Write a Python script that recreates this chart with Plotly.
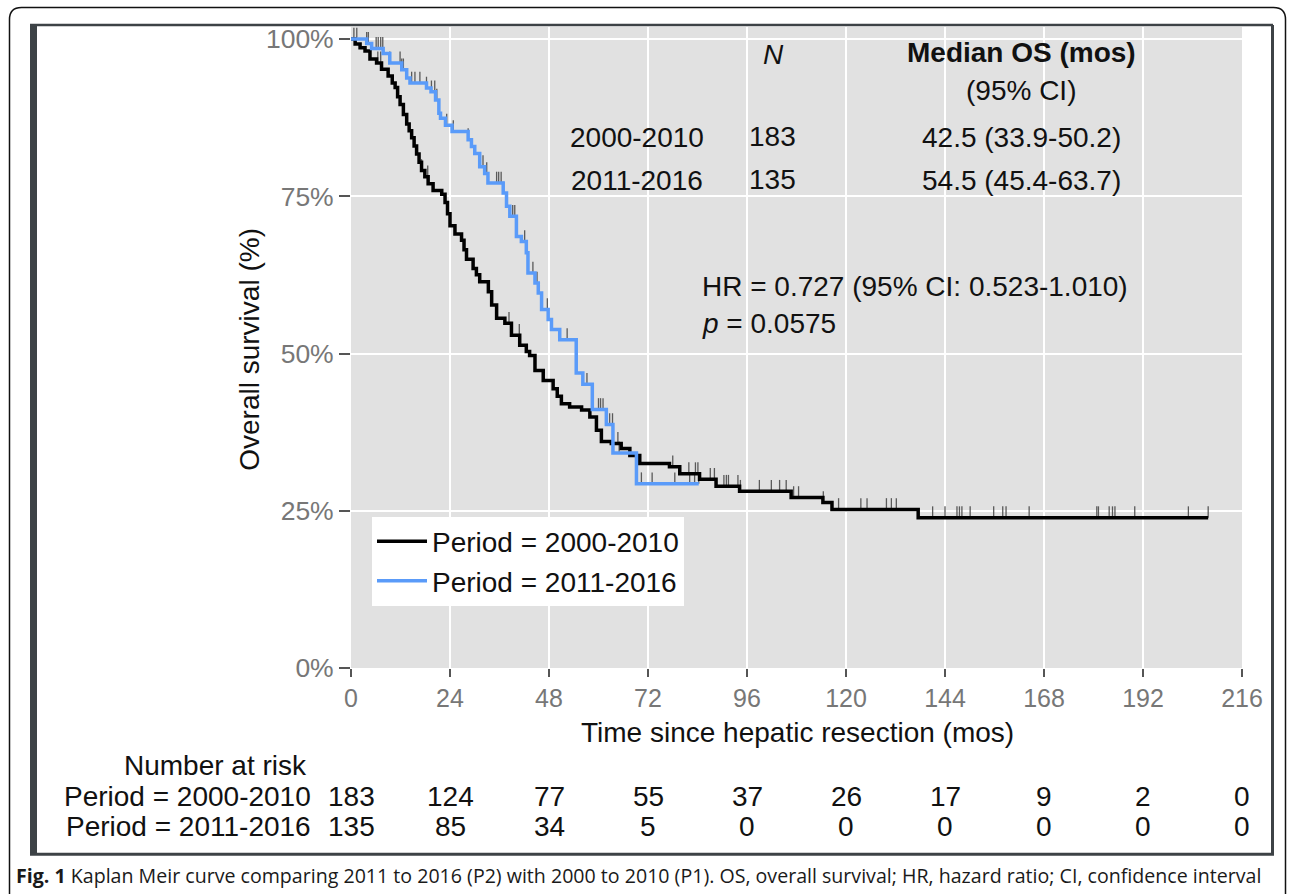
import numpy as np
import plotly.graph_objects as go

# ---------------- data ----------------
p1_name = "Period = 2000-2010"
p2_name = "Period = 2011-2016"

p1_times = [0, 1.0, 2.2, 3.4, 4.6, 6.2, 7.4, 9.0, 10.0, 10.7, 11.3, 11.9, 12.7, 13.5, 14.1, 14.7,
            15.3, 15.9, 16.5, 17.1, 17.9, 18.7, 19.9, 22.0, 22.8, 23.4, 24.0, 25.2, 26.8, 27.4,
            28.0, 29.6, 30.4, 31.2, 33.3, 34.1, 35.3, 37.3, 38.9, 40.9, 42.5, 43.3, 44.6, 46.6,
            49.0, 50.0, 51.0, 53.0, 55.9, 57.9, 59.5, 60.7, 63.1, 65.5, 67.6, 70.0, 77.2, 79.7,
            84.5, 88.5, 94.2, 106.7, 114.4, 116.6, 137.5]
p1_surv = [1.0, 0.992, 0.986, 0.981, 0.968, 0.962, 0.952, 0.941, 0.930, 0.923, 0.908, 0.896, 0.880,
           0.865, 0.854, 0.843, 0.830, 0.817, 0.804, 0.791, 0.781, 0.770, 0.759, 0.753, 0.740,
           0.722, 0.703, 0.690, 0.680, 0.665, 0.650, 0.635, 0.625, 0.614, 0.598, 0.577, 0.556,
           0.548, 0.529, 0.513, 0.503, 0.497, 0.473, 0.457, 0.444, 0.432, 0.420, 0.415, 0.410,
           0.399, 0.378, 0.360, 0.357, 0.349, 0.338, 0.325, 0.320, 0.309, 0.300, 0.289, 0.281,
           0.271, 0.263, 0.252, 0.239]
p1_end = 207.8
p1_censor = [6.5, 7.2, 17.1, 18.6, 38.3, 40.8, 64.7, 78.0, 81.9, 83.5, 84.1, 87.1, 88.1, 90.4,
             91.0, 91.5, 93.8, 94.4, 99.0, 101.9, 103.9, 105.5, 107.3, 108.5, 114.5, 118.2, 123.6,
             125.1, 129.8, 131.0, 132.2, 141.0, 144.0, 146.9, 147.5, 148.1, 150.1, 155.8, 158.0,
             158.8, 164.4, 180.8, 181.2, 183.8, 184.6, 185.2, 190.0, 203.0, 207.8]

p2_times = [0, 3.8, 5.0, 7.8, 9.4, 12.3, 13.5, 14.3, 18.3, 19.4, 20.5, 21.3, 21.7, 22.9, 24.5,
            28.4, 29.2, 30.0, 31.2, 32.4, 33.2, 36.9, 37.7, 38.5, 40.1, 41.3, 42.5, 42.9, 44.6,
            45.4, 46.2, 47.8, 48.6, 50.6, 54.6, 56.2, 58.5, 61.9, 63.5, 69.2]
p2_surv = [1.0, 0.993, 0.985, 0.977, 0.962, 0.951, 0.938, 0.930, 0.922, 0.916, 0.903, 0.882,
           0.874, 0.863, 0.853, 0.840, 0.829, 0.818, 0.797, 0.786, 0.771, 0.755, 0.734, 0.718,
           0.686, 0.678, 0.660, 0.628, 0.612, 0.596, 0.570, 0.554, 0.538, 0.522, 0.469, 0.451,
           0.411, 0.387, 0.342, 0.293]
p2_end = 84.3
p2_censor = [0.7, 1.4, 3.8, 4.2, 6.1, 6.6, 7.2, 7.7, 9.4, 11.9, 12.3, 12.7, 14.7, 15.5, 16.7,
             18.3, 19.5, 20.3, 20.8, 23.2, 24.8, 28.4, 31.2, 32.0, 32.9, 35.3, 35.8, 36.4, 36.9,
             39.2, 39.7, 42.1, 44.1, 45.1, 46.2, 47.6, 52.4, 57.2, 60.0, 60.5, 61.1, 62.1, 62.7,
             63.4, 65.0, 70.4, 73.0, 78.5, 82.1, 83.3, 84.3]

risk_times = [0, 24, 48, 72, 96, 120, 144, 168, 192, 216]
risk_p1 = [183, 124, 77, 55, 37, 26, 17, 9, 2, 0]
risk_p2 = [135, 85, 34, 5, 0, 0, 0, 0, 0, 0]

x_tickvals = [0, 24, 48, 72, 96, 120, 144, 168, 192, 216]
y_tickvals = [0, 0.25, 0.5, 0.75, 1.0]
y_ticktext = ["0%", "25%", "50%", "75%", "100%"]

table_header = ["N", "Median OS (mos)", "(95% CI)"]
table_rows = [["2000-2010", "183", "42.5 (33.9-50.2)"],
              ["2011-2016", "135", "54.5 (45.4-63.7)"]]
hr_text = "HR = 0.727 (95% CI: 0.523-1.010)"
p_text = "<i>p</i> = 0.0575"
caption = ("<b>Fig. 1</b> Kaplan Meir curve comparing 2011 to 2016 (P2) with 2000 to 2010 (P1). "
           "OS, overall survival; HR, hazard ratio; CI, confidence interval")

# ---------------- layout geometry (pixels) ----------------
W, H = 1292, 894
PL, PR, PT, PB = 351, 1242, 27, 668.5


def xp(px):
    return (px - PL) / (PR - PL)


def yp(py):
    return (PB - py) / (PB - PT)


FONT = "Liberation Sans, Arial, sans-serif"
BLACK = "#000000"
BLUE = "#5A9BF9"
CENS = "#5a5a5a"


def step_xy(times, surv, end):
    return list(times) + [end], list(surv) + [surv[-1]]


def surv_at(times, surv, ts):
    idx = np.searchsorted(np.array(times), np.array(ts), side="right") - 1
    return [surv[i] for i in idx]


fig = go.Figure()

# censor marks (vertical ticks above the curve)
for times, surv, cens in [(p1_times, p1_surv, p1_censor), (p2_times, p2_surv, p2_censor)]:
    cy = surv_at(times, surv, cens)
    fig.add_trace(go.Scatter(
        x=cens, y=cy, mode="markers", marker=dict(size=1, opacity=0),
        error_y=dict(type="data", symmetric=False, array=[0.018] * len(cens),
                     arrayminus=[0.0] * len(cens), width=0, thickness=1.3, color=CENS),
        showlegend=False, hoverinfo="skip"))

x1, y1 = step_xy(p1_times, p1_surv, p1_end)
fig.add_trace(go.Scatter(x=x1, y=y1, mode="lines", line=dict(shape="hv", color=BLACK, width=3.5),
                         name=p1_name))
x2, y2 = step_xy(p2_times, p2_surv, p2_end)
fig.add_trace(go.Scatter(x=x2, y=y2, mode="lines", line=dict(shape="hv", color=BLUE, width=3.5),
                         name=p2_name))

ann = []


def add_text(text, px, py, size=28, xanchor="center", bold=False, italic=False, color="#111111",
             family=FONT, angle=0):
    t = text
    if bold:
        t = "<b>" + t + "</b>"
    if italic:
        t = "<i>" + t + "</i>"
    ann.append(dict(text=t, x=xp(px), y=yp(py), xref="paper", yref="paper", showarrow=False,
                    xanchor=xanchor, yanchor="middle", textangle=angle,
                    font=dict(size=size, color=color, family=family)))


# in-panel table
add_text(table_header[0], 773, 55, italic=True)
add_text(table_header[1], 1021, 53, bold=True)
add_text(table_header[2], 1021, 91)
for i, row in enumerate(table_rows):
    yy = [138, 181][i]
    add_text(row[0], 637, yy)
    add_text(row[1], 772, yy - 1)
    add_text(row[2], 1021, yy)
add_text(hr_text, 700, 287, xanchor="left")
add_text(p_text, 700, 324, xanchor="left")

# axis titles
add_text("Overall survival (%)", 250, 350, angle=-90)
add_text("Time since hepatic resection (mos)", 797, 733)

# risk table
add_text("Number at risk", 215, 766)
add_text(p1_name, 313, 797, xanchor="right")
add_text(p2_name, 313, 827, xanchor="right")
for t, a, b in zip(risk_times, risk_p1, risk_p2):
    ann.append(dict(text=str(a), x=t, y=yp(797), xref="x", yref="paper", showarrow=False,
                    xanchor="center", yanchor="middle", font=dict(size=28, color="#111111", family=FONT)))
    ann.append(dict(text=str(b), x=t, y=yp(827), xref="x", yref="paper", showarrow=False,
                    xanchor="center", yanchor="middle", font=dict(size=28, color="#111111", family=FONT)))

# caption
add_text(caption, 14, 876, size=19.6, xanchor="left", family="Open Sans, sans-serif", color="#1a1a1a")

# frames
FR = "#3d4246"
FB = 855
shapes = [
    dict(type="line", xref="paper", yref="paper", x0=xp(30), x1=xp(1273), y0=yp(25), y1=yp(25),
         line=dict(color=FR, width=2.5)),
    dict(type="rect", xref="paper", yref="paper", x0=xp(30), x1=xp(37), y0=yp(25), y1=yp(FB),
         line=dict(width=0), fillcolor=FR),
    dict(type="line", xref="paper", yref="paper", x0=xp(1272.5), x1=xp(1272.5), y0=yp(25), y1=yp(FB),
         line=dict(color=FR, width=3)),
    dict(type="line", xref="paper", yref="paper", x0=xp(30), x1=xp(1274), y0=yp(FB), y1=yp(FB),
         line=dict(color=FR, width=3)),
]
r = 12
bx0, bx1, by0, by1 = 9.5, 1285.5, 7.5, 900
path = (f"M {xp(bx0)},{yp(by1)} L {xp(bx0)},{yp(by0 + r)} Q {xp(bx0)},{yp(by0)} {xp(bx0 + r)},{yp(by0)} "
        f"L {xp(bx1 - r)},{yp(by0)} Q {xp(bx1)},{yp(by0)} {xp(bx1)},{yp(by0 + r)} L {xp(bx1)},{yp(by1)}")
shapes.append(dict(type="path", xref="paper", yref="paper", path=path,
                   line=dict(color="#111111", width=1.5)))

fig.update_layout(
    width=W, height=H, autosize=False,
    margin=dict(l=PL, r=W - PR, t=PT, b=H - PB, pad=0),
    paper_bgcolor="white", plot_bgcolor="#E1E1E1",
    font=dict(family=FONT, color="#111111"),
    showlegend=True,
    legend=dict(x=xp(372), y=yp(517), xanchor="left", yanchor="top", bgcolor="white",
                font=dict(size=28, family=FONT, color="#111111"), itemwidth=50,
                tracegroupgap=0, borderwidth=0),
    annotations=ann, shapes=shapes,
    xaxis=dict(range=[0, 216], tickvals=x_tickvals, ticks="outside", ticklen=8, tickwidth=1.5,
               tickcolor="#555555", showgrid=True, gridcolor="white", gridwidth=2,
               zeroline=False, showline=False,
               tickfont=dict(size=25, color="#777777", family=FONT)),
    yaxis=dict(range=[0, (PB - PT) / (PB - 39) * 1.0], tickvals=y_tickvals, ticktext=y_ticktext,
               ticks="outside", ticklen=11, tickwidth=1.5, tickcolor="#555555",
               showgrid=True, gridcolor="white", gridwidth=2, zeroline=False, showline=False,
               tickfont=dict(size=26.5, color="#777777", family=FONT)),
)

fig.write_html("out.html", config={"displayModeBar": False},
               post_script="document.body.style.margin='0';document.body.style.overflow='hidden';")
